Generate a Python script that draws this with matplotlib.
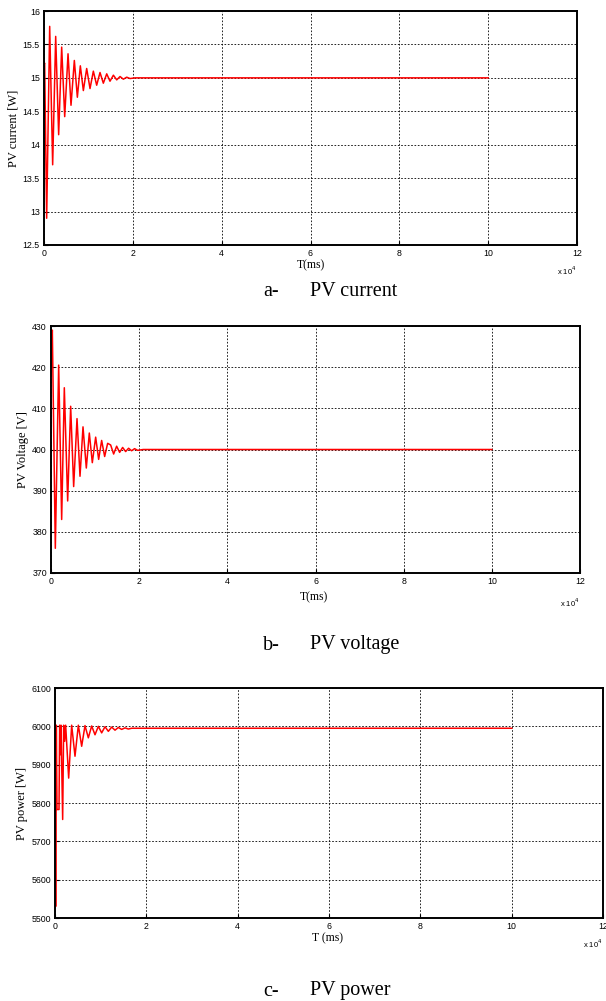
import numpy as np
import matplotlib
matplotlib.use('Agg')
import matplotlib.pyplot as plt

#data (time in ms, peaks and troughs of the transients)
t_current = [0, 150, 600, 1280, 1950, 2630, 3300, 3980, 4660, 5410, 6080, 6830, 7510, 8180, 8860,
             9610, 10360, 11110, 11860, 12610, 13360, 14120, 14860, 15620, 16370, 17120, 17870,
             18620, 19370, 20500, 100000]
pv_current = [15.2, 15.22, 12.9, 15.77, 13.7, 15.62, 14.15, 15.46, 14.42, 15.36, 14.59, 15.26, 14.71,
              15.18, 14.81, 15.14, 14.84, 15.10, 14.89, 15.08, 14.92, 15.06, 14.95, 15.04, 14.97,
              15.02, 14.98, 15.01, 14.99, 15.0, 15.0]

t_voltage = [0, 150, 300, 980, 1740, 2420, 3020, 3780, 4460, 5140, 5900, 6580, 7260, 8010, 8690,
             9370, 10130, 10810, 11490, 12170, 12850, 13530, 14210, 14890, 15570, 16250, 16930,
             17600, 18280, 18960, 19640, 20930, 100000]
pv_voltage = [418, 423, 429, 376, 420.5, 383, 415, 387.5, 410.5, 391, 407.5, 393.5, 405.5, 395.5, 404,
              396.8, 403, 397.6, 402.2, 398.3, 401.5, 401.1, 398.9, 400.8, 399.3, 400.5, 399.5,
              400.3, 399.7, 400.2, 399.8, 400.0, 400.0]

t_power = [0, 146, 292, 438, 876, 1022, 1168, 1314, 1679, 1898, 2117, 2336, 2993, 3650, 4380, 5110,
           5840, 6570, 7300, 8030, 8760, 9490, 10220, 10950, 11680, 12410, 13140, 13870, 14600,
           15330, 16060, 16790, 17500, 100000]
pv_power = [6003, 5530, 6003, 5783, 5783, 6003, 5926, 6003, 5757, 6003, 5961, 6003, 5865, 6003, 5922,
            6003, 5948, 6002, 5970, 6001, 5978, 6000, 5983, 5999, 5987, 5998, 5990, 5997, 5992,
            5996, 5993, 5995, 5995, 5995]

panels = [
    # (t, y, ylim, yticks, ylabel, xlabel, caption letter, caption, axes box px: left, right, top, bottom, xlabel x, xlabel y, caption y)
    (t_current, pv_current, (12.5, 16), [12.5, 13, 13.5, 14, 14.5, 15, 15.5, 16], 'PV current [W]',
     'T(ms)', 'a-', 'PV current', (44, 577, 11, 245), 311, 265, 291),
    (t_voltage, pv_voltage, (370, 430), [370, 380, 390, 400, 410, 420, 430], 'PV Voltage [V]',
     'T(ms)', 'b-', 'PV voltage', (51, 580, 326, 573), 314, 597, 645),
    (t_power, pv_power, (5500, 6100), [5500, 5600, 5700, 5800, 5900, 6000, 6100], 'PV power [W]',
     'T (ms)', 'c-', 'PV power', (55, 603, 688, 918), 327, 938, 991),
]

W, H = 606, 1001
fig = plt.figure(figsize=(W / 100, H / 100), dpi=100)

def fx(px): return px / W
def fy(py): return 1 - py / H

for t, y, ylim, yticks, ylabel, xlabel, letter, caption, (l, r, top, bot), xlab_x, xlab_y, cap_y in panels:
    ax = fig.add_axes([fx(l), fy(bot), (r - l) / W, (bot - top) / H])
    ax.plot(np.array(t) / 1e4, y, color='red', lw=1.1)
    ax.set_xlim(0, 12)
    ax.set_ylim(*ylim)
    ax.set_xticks(range(0, 13, 2))
    ax.set_yticks(yticks)
    ax.set_yticklabels([('%g' % v) for v in yticks])
    ax.grid(True, color='black', linestyle=(0, (2, 2)), linewidth=0.6)
    ax.tick_params(direction='in', length=3, width=0.8, labelsize=6.3, pad=3)
    for lab in ax.get_xticklabels() + ax.get_yticklabels():
        lab.set_family('Liberation Sans')
    for sp in ax.spines.values():
        sp.set_linewidth(1.4)
    ax.set_ylabel(ylabel, family='Liberation Serif', fontsize=9, labelpad=2)
    #x label, multiplier and caption placed in figure pixels
    fig.text(fx(xlab_x), fy(xlab_y), xlabel, family='Liberation Serif', fontsize=8.5,
             ha='center', va='center')
    fig.text(fx(r), fy(xlab_y + 6), r'x 10$^4$', family='Liberation Sans', fontsize=5.5,
             ha='right', va='center')
    fig.text(fx(263), fy(cap_y), letter, family='Liberation Serif', fontsize=14.5,
             ha='left', va='center')
    fig.text(fx(310), fy(cap_y), caption, family='Liberation Serif', fontsize=14.5,
             ha='left', va='center')

fig.savefig('out.png', dpi=100)
